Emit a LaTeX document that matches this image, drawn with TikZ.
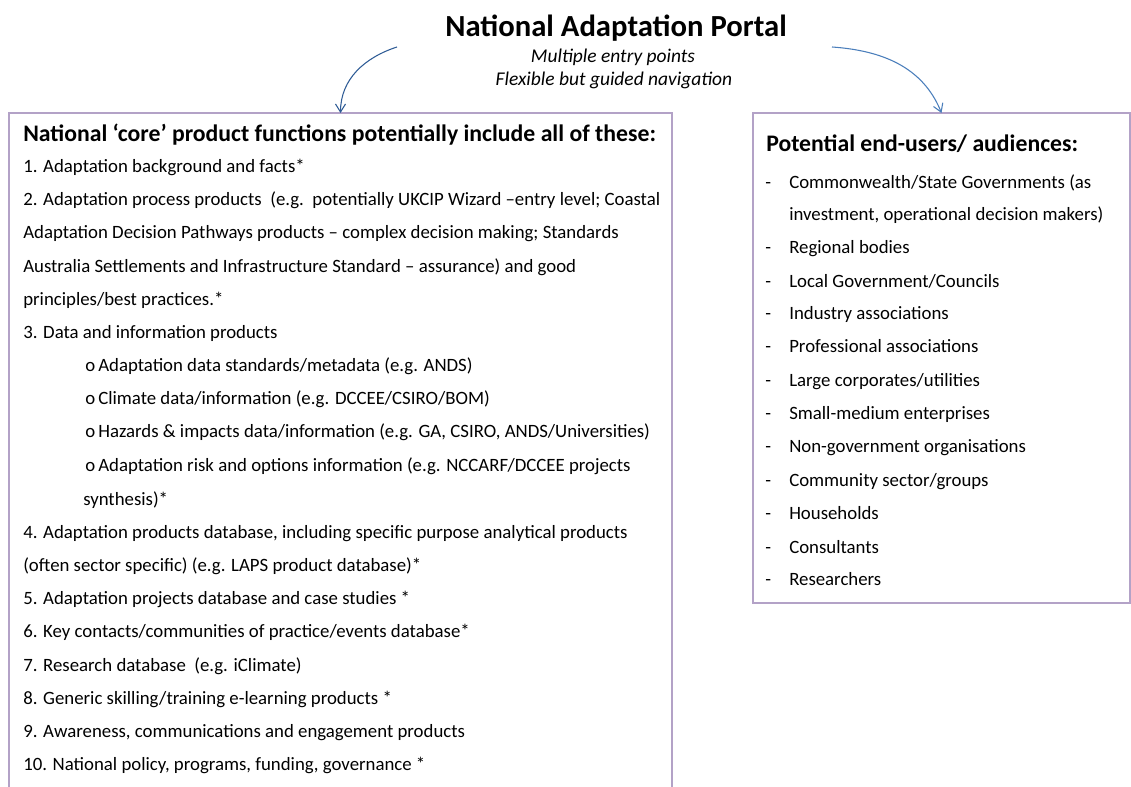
\documentclass[tikz,border=0pt]{standalone}
\usepackage{fontspec}
\setmainfont{Carlito}
\usepackage{tikz}
\usetikzlibrary{arrows.meta}
\definecolor{boxpurple}{HTML}{B3A2C7}
\definecolor{arrowdark}{HTML}{2F5C96}
\definecolor{arrowlight}{HTML}{4A7EBB}
\tikzset{
  boxline/.style={draw=boxpurple, line width=1.5pt, inner sep=0pt, outer sep=0pt},
  itemtext/.style={anchor=base west, inner sep=0pt, font=\fontsize{14.1}{16}\selectfont},
  headtext/.style={anchor=base west, inner sep=0pt, font=\bfseries\fontsize{17.8}{20}\selectfont},
  subtext/.style={anchor=base, inner sep=0pt, font=\itshape\fontsize{14.6}{17}\selectfont},
  portalarrow/.style={-{Straight Barb[length=6pt,width=7.5pt]}, line width=0.8pt}
}

\begin{document}
\begin{tikzpicture}[x=0.75pt,y=0.75pt]
            \useasboundingbox (0,0) rectangle (1131,-787);
            \fill[white] (0,0) rectangle (1131,-787);

            \node at (616,-37) [anchor=base, inner sep=0pt, font=\bfseries\fontsize{23}{26}\selectfont] (title) {National Adaptation Portal};
            \node at (613,-63) [subtext] (sub1) {Multiple entry points};
            \node at (614,-86) [subtext] (sub2) {Flexible but guided navigation};

            \node at (340.5,-472) [boxline, minimum width=497.25pt, minimum height=538.5pt] (core) {};
            \node at (941.5,-358) [boxline, minimum width=282.75pt, minimum height=367.5pt] (users) {};

            \coordinate (lfrom) at (397,-47);
            \coordinate (rfrom) at (832,-47);
            \draw[portalarrow, arrowdark] (lfrom) to[out=198,in=90] (core.north);
            \draw[portalarrow, arrowlight] (rfrom) to[out=-4,in=112] (users.north);

            \node at (23,-142) [headtext] (corehead) {National ‘core’ product functions potentially include all of these:};
            \node at (23,-173) [itemtext] (c1) {1. Adaptation background and facts*};
            \node at (23,-206) [itemtext] (c2) {2. Adaptation process products\ \ (e.g.\ \ potentially UKCIP Wizard –entry level; Coastal};
            \node at (23,-239) [itemtext] (c2b) {Adaptation Decision Pathways products – complex decision making; Standards};
            \node at (23,-273) [itemtext] (c2c) {Australia Settlements and Infrastructure Standard – assurance) and good};
            \node at (23,-306) [itemtext] (c2d) {principles/best practices.*};
            \node at (23,-339) [itemtext] (c3) {3. Data and information products};
            \node at (85,-372) [itemtext] (c3a) {o\,Adaptation data standards/metadata (e.g. ANDS)};
            \node at (85,-405) [itemtext] (c3b) {o\,Climate data/information (e.g. DCCEE/CSIRO/BOM)};
            \node at (85,-438) [itemtext] (c3c) {o\,Hazards \& impacts data/information (e.g. GA, CSIRO, ANDS/Universities)};
            \node at (85,-472) [itemtext] (c3d) {o\,Adaptation risk and options information (e.g. NCCARF/DCCEE projects};
            \node at (83,-505) [itemtext] (c3e) {synthesis)*};
            \node at (23,-538) [itemtext] (c4) {4. Adaptation products database, including specific purpose analytical products};
            \node at (23,-571) [itemtext] (c4b) {(often sector specific) (e.g. LAPS product database)*};
            \node at (23,-604) [itemtext] (c5) {5. Adaptation projects database and case studies *};
            \node at (23,-637) [itemtext] (c6) {6. Key contacts/communities of practice/events database*};
            \node at (23,-671) [itemtext] (c7) {7. Research database\ \ (e.g. iClimate)};
            \node at (23,-704) [itemtext] (c8) {8. Generic skilling/training e-learning products *};
            \node at (23,-737) [itemtext] (c9) {9. Awareness, communications and engagement products};
            \node at (23,-770) [itemtext] (c10) {10. National policy, programs, funding, governance *};

            \node at (766,-152) [headtext] (usershead) {Potential end-users/ audiences:};
            \node at (765,-189) [itemtext] {-};
            \node at (789,-189) [itemtext] (u1) {Commonwealth/State Governments (as};
            \node at (789,-221) [itemtext] (u1b) {investment, operational decision makers)};
            \node at (765,-254) [itemtext] {-};
            \node at (789,-254) [itemtext] (u2) {Regional bodies};
            \node at (765,-288) [itemtext] {-};
            \node at (789,-288) [itemtext] (u3) {Local Government/Councils};
            \node at (765,-320) [itemtext] {-};
            \node at (789,-320) [itemtext] (u4) {Industry associations};
            \node at (765,-353) [itemtext] {-};
            \node at (789,-353) [itemtext] (u5) {Professional associations};
            \node at (765,-387) [itemtext] {-};
            \node at (789,-387) [itemtext] (u6) {Large corporates/utilities};
            \node at (765,-420) [itemtext] {-};
            \node at (789,-420) [itemtext] (u7) {Small-medium enterprises};
            \node at (765,-453) [itemtext] {-};
            \node at (789,-453) [itemtext] (u8) {Non-government organisations};
            \node at (765,-486) [itemtext] {-};
            \node at (789,-486) [itemtext] (u9) {Community sector/groups};
            \node at (765,-519) [itemtext] {-};
            \node at (789,-519) [itemtext] (u10) {Households};
            \node at (765,-553) [itemtext] {-};
            \node at (789,-553) [itemtext] (u11) {Consultants};
            \node at (765,-585) [itemtext] {-};
            \node at (789,-585) [itemtext] (u12) {Researchers};
          \end{tikzpicture}
\end{document}
